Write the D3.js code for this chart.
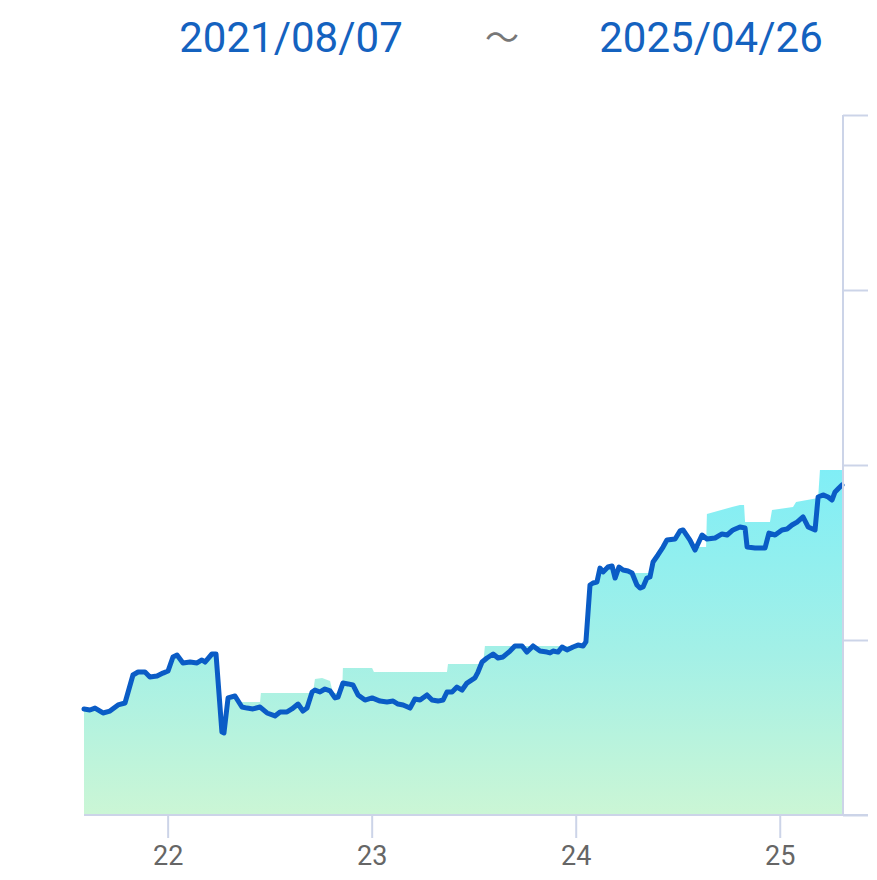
<!DOCTYPE html>
<html>
<head>
<meta charset="utf-8">
<script src="https://cdn.jsdelivr.net/npm/d3@7"></script>
<style>
  html, body { margin: 0; padding: 0; background: #ffffff; }
  svg { display: block; }
</style>
</head>
<body>
<script>
// ---- data ----
const startLabel = "2021/08/07";
const endLabel = "2025/04/26";
const tildeLabel = "～";

const xDomain = [2021.59, 2025.31];
const yDomain = [0, 400];
const xTicks = [2022, 2023, 2024, 2025];
const xTickLabels = ["22", "23", "24", "25"];
const yTicks = [0, 100, 200, 300, 400];

// line series (decimal year, value)
const lineYears = [
  2021.590, 2021.619, 2021.644, 2021.683, 2021.717, 2021.757, 2021.791, 2021.830, 2021.855, 2021.889,
  2021.913, 2021.948, 2021.977, 2022.002, 2022.026, 2022.046, 2022.075, 2022.110, 2022.144, 2022.168,
  2022.183, 2022.217, 2022.237, 2022.266, 2022.276, 2022.296, 2022.330, 2022.364, 2022.389, 2022.418,
  2022.453, 2022.487, 2022.526, 2022.551, 2022.585, 2022.609, 2022.639, 2022.663, 2022.683, 2022.708,
  2022.722, 2022.747, 2022.771, 2022.796, 2022.820, 2022.835, 2022.859, 2022.884, 2022.908, 2022.933,
  2022.967, 2023.002, 2023.041, 2023.075, 2023.105, 2023.129, 2023.154, 2023.188, 2023.212, 2023.237,
  2023.271, 2023.296, 2023.325, 2023.350, 2023.369, 2023.394, 2023.418, 2023.443, 2023.467, 2023.506,
  2023.521, 2023.541, 2023.565, 2023.595, 2023.619, 2023.644, 2023.678, 2023.702, 2023.737, 2023.761,
  2023.791, 2023.825, 2023.859, 2023.874, 2023.889, 2023.913, 2023.933, 2023.957, 2023.987, 2024.011,
  2024.036, 2024.050, 2024.070, 2024.085, 2024.104, 2024.119, 2024.134, 2024.158, 2024.178, 2024.193,
  2024.212, 2024.232, 2024.256, 2024.276, 2024.300, 2024.315, 2024.330, 2024.349, 2024.364, 2024.379,
  2024.403, 2024.428, 2024.447, 2024.487, 2024.511, 2024.526, 2024.560, 2024.585, 2024.619, 2024.643,
  2024.683, 2024.717, 2024.742, 2024.771, 2024.805, 2024.830, 2024.840, 2024.879, 2024.928, 2024.947,
  2024.977, 2025.011, 2025.036, 2025.060, 2025.085, 2025.114, 2025.139, 2025.173, 2025.188, 2025.212,
  2025.237, 2025.256, 2025.271, 2025.290, 2025.305
];
const lineValues = [
  60.6, 60.0, 61.1, 58.3, 59.4, 62.9, 64.0, 80.0, 81.7, 81.7,
  78.9, 79.4, 81.1, 82.3, 90.3, 91.4, 86.9, 87.4, 86.9, 88.6,
  87.4, 92.0, 92.0, 47.4, 46.9, 66.9, 68.0, 61.7, 61.1, 60.6,
  61.7, 58.3, 56.6, 58.9, 58.9, 60.6, 63.4, 59.4, 61.1, 70.3,
  71.4, 70.3, 72.0, 70.9, 66.9, 67.4, 75.4, 74.9, 74.3, 68.6,
  65.7, 66.9, 65.1, 64.6, 65.1, 63.4, 62.9, 61.1, 66.3, 65.7,
  68.6, 65.7, 65.1, 65.7, 70.3, 70.3, 73.1, 71.4, 75.4, 78.3,
  81.7, 87.4, 89.7, 92.0, 89.7, 90.3, 93.7, 96.6, 96.6, 93.1,
  96.6, 93.7, 93.1, 92.6, 93.7, 93.1, 96.0, 94.3, 96.0, 97.1,
  96.6, 98.9, 131.4, 132.6, 133.1, 141.1, 138.9, 141.7, 142.3, 135.4,
  141.7, 140.0, 139.4, 138.3, 131.4, 129.7, 130.3, 135.4, 136.0, 144.6,
  148.6, 153.1, 157.1, 157.7, 162.3, 162.9, 157.1, 151.4, 160.0, 157.7,
  158.3, 160.6, 160.0, 162.9, 164.6, 164.0, 153.1, 152.6, 152.6, 161.1,
  160.0, 162.9, 163.4, 165.7, 167.4, 170.3, 164.6, 162.9, 181.7, 182.9,
  181.7, 180.0, 184.6, 186.9, 188.6
];

// filled area series (decimal year, value)
const areaYears = [
  2021.590, 2021.619, 2021.644, 2021.683, 2021.717, 2021.757, 2021.791, 2021.830, 2021.855, 2021.889,
  2021.913, 2021.948, 2021.977, 2022.002, 2022.026, 2022.046, 2022.075, 2022.110, 2022.144, 2022.168,
  2022.183, 2022.217, 2022.237, 2022.266, 2022.276, 2022.296, 2022.330, 2022.355, 2022.453, 2022.457,
  2022.712, 2022.722, 2022.757, 2022.796, 2022.810, 2022.855, 2022.859, 2023.002, 2023.011, 2023.369,
  2023.374, 2023.546, 2023.555, 2024.048, 2024.050, 2024.070, 2024.085, 2024.104, 2024.119, 2024.134,
  2024.158, 2024.178, 2024.193, 2024.212, 2024.232, 2024.256, 2024.276, 2024.369, 2024.379, 2024.403,
  2024.428, 2024.447, 2024.487, 2024.511, 2024.526, 2024.560, 2024.570, 2024.639, 2024.643, 2024.766,
  2024.805, 2024.825, 2024.830, 2024.952, 2024.962, 2025.065, 2025.080, 2025.188, 2025.197, 2025.310
];
const areaValues = [
  60.6, 60.0, 61.1, 58.3, 59.4, 62.9, 64.0, 80.0, 81.7, 81.7,
  78.9, 79.4, 81.1, 82.3, 90.3, 91.4, 86.9, 87.4, 86.9, 88.6,
  87.4, 92.0, 92.0, 47.4, 46.9, 66.9, 68.0, 64.6, 64.6, 69.7,
  69.7, 77.7, 78.3, 76.6, 69.7, 69.7, 84.0, 84.0, 81.7, 81.7,
  86.3, 86.3, 96.6, 96.6, 98.9, 131.4, 132.6, 133.1, 141.1, 138.9,
  141.7, 142.3, 138.3, 141.7, 140.0, 139.4, 138.3, 138.3, 144.6, 148.6,
  153.1, 157.1, 157.7, 162.3, 162.9, 157.1, 153.1, 153.1, 172.0, 176.0,
  177.1, 177.1, 167.4, 167.4, 174.3, 176.0, 178.9, 181.1, 197.1, 197.1
];

// ---- drawing ----
const W = 877, H = 880;
const svg = d3.select("body").append("svg").attr("width", W).attr("height", H);

const x = d3.scaleLinear().domain(xDomain).range([84, 843]);
const y = d3.scaleLinear().domain(yDomain).range([815, 115]);

const axisColor = "#ccd4e8";

// gradient
const defs = svg.append("defs");
const grad = defs.append("linearGradient").attr("id", "areaGrad")
  .attr("gradientUnits", "userSpaceOnUse")
  .attr("x1", 0).attr("x2", 0).attr("y1", y(200)).attr("y2", y(0));
grad.append("stop").attr("offset", "0%").attr("stop-color", "#7feef7");
grad.append("stop").attr("offset", "55%").attr("stop-color", "#a4f0e6");
grad.append("stop").attr("offset", "100%").attr("stop-color", "#cbf6d5");

const areaData = areaYears.map((t, i) => ({ t, v: areaValues[i] }));
const lineData = lineYears.map((t, i) => ({ t, v: lineValues[i] }));

svg.append("path").datum(areaData)
  .attr("fill", "url(#areaGrad)")
  .attr("d", d3.area().x(d => x(d.t)).y0(y(0)).y1(d => y(d.v)));

svg.append("path").datum(lineData)
  .attr("fill", "none")
  .attr("stroke", "#0a5cc6")
  .attr("stroke-width", 5)
  .attr("stroke-linejoin", "round")
  .attr("stroke-linecap", "round")
  .attr("d", d3.line().x(d => x(d.t)).y(d => y(d.v)));

// bottom axis
const xAxis = d3.axisBottom(x)
  .tickValues(xTicks)
  .tickFormat((d, i) => xTickLabels[i])
  .tickSize(23)
  .tickPadding(8);
const gx = svg.append("g").attr("transform", `translate(0,${y(0)})`).call(xAxis);
gx.select(".domain").remove();
gx.append("line").attr("x1", 84).attr("x2", 868).attr("y1", 0).attr("y2", 0)
  .attr("stroke", axisColor).attr("stroke-width", 2);
gx.selectAll(".tick line").attr("stroke", axisColor).attr("stroke-width", 2);
gx.selectAll(".tick text")
  .attr("fill", "#666666")
  .attr("font-family", "Roboto, sans-serif")
  .attr("font-size", 27);

// right axis
const yAxis = d3.axisRight(y).tickValues(yTicks).tickSize(25).tickFormat("");
const gy = svg.append("g").attr("transform", `translate(843,0)`).call(yAxis);
gy.select(".domain").attr("stroke", axisColor).attr("stroke-width", 2)
  .attr("d", `M0,${y(400)}V${y(0)}`);
gy.selectAll(".tick line").attr("stroke", axisColor).attr("stroke-width", 2);

// title
const title = svg.append("g").attr("font-family", "Roboto, sans-serif");
title.append("text").attr("x", 291).attr("y", 52).attr("text-anchor", "middle")
  .attr("font-size", 42).attr("fill", "#1462bf").text(startLabel);
title.append("text").attr("x", 502).attr("y", 50).attr("text-anchor", "middle")
  .attr("font-family", "'Noto Sans CJK JP', sans-serif")
  .attr("font-size", 34).attr("fill", "#777777").text(tildeLabel);
title.append("text").attr("x", 711).attr("y", 52).attr("text-anchor", "middle")
  .attr("font-size", 42).attr("fill", "#1462bf").text(endLabel);
</script>
</body>
</html>
